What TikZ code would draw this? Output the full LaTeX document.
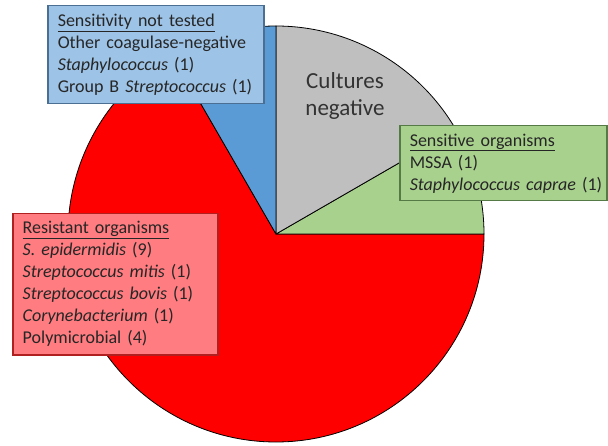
\documentclass[tikz,border=0pt]{standalone}
\usepackage{fontspec}
\setmainfont{Carlito}
\definecolor{pred}{HTML}{FF0000}
\definecolor{pgreen}{HTML}{A9D18E}
\definecolor{pgray}{HTML}{BFBFBF}
\definecolor{pblue}{HTML}{5B9BD5}
\definecolor{bblue}{HTML}{9DC3E6}
\definecolor{bred}{HTML}{FF7C80}
\definecolor{bgreen}{HTML}{A9D18E}
\definecolor{lblue}{HTML}{4A6F92}
\definecolor{lred}{HTML}{B02020}
\definecolor{lgreen}{HTML}{557A45}
\definecolor{txt}{HTML}{262626}
\definecolor{negtxt}{HTML}{333333}
\hfuzz=\maxdimen
\hbadness=10000
\begin{document}
\begin{tikzpicture}[x=1pt,y=1pt,
  slice/.style={draw=black, line width=0.8pt, line join=round},
  legend/.style={line width=1.5pt, anchor=north west, align=left, inner xsep=10pt, inner ysep=0pt,
    font=\fontsize{18}{22}\selectfont, text=txt}]
\useasboundingbox[fill=white] (0,0) rectangle (608,445);
\coordinate (c) at (276,211);
\filldraw[slice, fill=pred] (c) -- ++(0:208) arc[start angle=0,end angle=-240,radius=208] -- cycle;
\filldraw[slice, fill=pgreen] (c) -- ++(0:208) arc[start angle=0,end angle=30,radius=208] -- cycle;
\filldraw[slice, fill=pgray] (c) -- ++(30:208) arc[start angle=30,end angle=90,radius=208] -- cycle;
\filldraw[slice, fill=pblue] (c) -- ++(90:208) arc[start angle=90,end angle=120,radius=208] -- cycle;
\node[font=\fontsize{23}{27}\selectfont, text=negtxt, align=center] (neg) at (345,349) {Cultures\\negative};
\node[legend, draw=lblue, fill=bblue, text width=196pt, minimum height=98pt] (nt) at (47,440)
  {\underline{Sensitivity not tested}\\\mbox{Other coagulase-negative}\\\mbox{\textit{Staphylococcus} (1)}\\\mbox{Group B \textit{Streptococcus} (1)}};
\node[legend, draw=lgreen, fill=bgreen, text width=187pt, minimum height=75pt] (se) at (399,320)
  {\underline{Sensitive organisms}\\MSSA (1)\\\mbox{\textit{Staphylococcus caprae} (1)}};
\node[legend, draw=lred, fill=bred, text width=185pt, minimum height=141pt] (re) at (12,232)
  {\underline{Resistant organisms}\\\mbox{\textit{S. epidermidis} (9)}\\\mbox{\textit{Streptococcus mitis} (1)}\\\mbox{\textit{Streptococcus bovis} (1)}\\\mbox{\textit{Corynebacterium} (1)}\\\mbox{Polymicrobial (4)}};
\end{tikzpicture}
\end{document}
